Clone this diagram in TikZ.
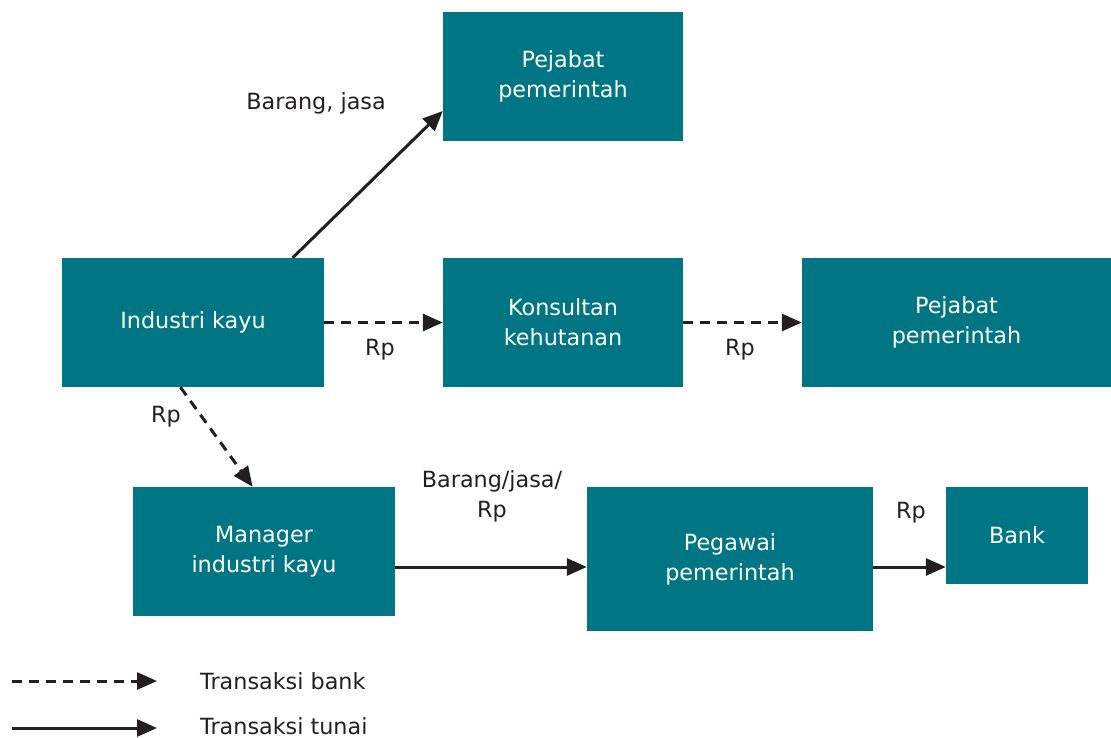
\documentclass[tikz,border=0pt]{standalone}
\usepackage{fontspec}
\setmainfont{DejaVu Sans}
\usetikzlibrary{arrows.meta}
\definecolor{petrol}{RGB}{0,118,132}
\definecolor{ink}{RGB}{35,31,32}

\begin{document}
\begin{tikzpicture}[x=1pt,y=-1pt,
  kotak/.style={rectangle,fill=petrol,text=white,align=center,inner sep=0pt,
    font=\fontsize{22.3}{30}\selectfont},
  ket/.style={text=ink,align=center,inner sep=0pt,font=\fontsize{22.3}{30}\selectfont},
  tunai/.style={draw=ink,line width=3pt,-{Triangle[length=20pt,width=17pt]}},
  transfer/.style={tunai,dash pattern=on 10pt off 7pt}]
  %\draw[help lines,step=50] (0,0) grid (1111,738);
  \useasboundingbox (0,0) rectangle (1111,738);

\node[kotak,minimum width=240,minimum height=129] (pej1) at (563,76.5)
  {Pejabat\\pemerintah};
\node[kotak,minimum width=262,minimum height=129] (ind) at (193,322.5)
  {Industri kayu};
\node[kotak,minimum width=240,minimum height=129] (kons) at (563,322.5)
  {Konsultan\\kehutanan};
\node[kotak,minimum width=309,minimum height=129] (pej2) at (956.5,322.5)
  {Pejabat\\pemerintah};
\node[kotak,minimum width=262,minimum height=129] (mgr) at (264,551.5)
  {Manager\\industri kayu};
\node[kotak,minimum width=286,minimum height=144] (peg) at (730,559)
  {Pegawai\\pemerintah};
\node[kotak,minimum width=142,minimum height=97] (bank) at (1017,535.5)
  {Bank};

\draw[tunai] (ind.33) -- (pej1.196);
\draw[transfer] (ind.east) -- (kons.west);
\draw[transfer] (kons.east) -- (pej2.west);
\draw[transfer] (ind.259) -- (mgr.100);
\draw[tunai] ([yshift=-15.5pt]mgr.east) -- ([yshift=-15.5pt]mgr.east -| peg.west);
\draw[tunai] ([yshift=-8pt]peg.east) -- ([yshift=-8pt]peg.east -| bank.west);

\node[ket] (lbl1) at (316,103) {Barang, jasa};
\node[ket] (lbl2) at (380,350) {Rp};
\node[ket] (lbl3) at (740,350) {Rp};
\node[ket] (lbl4) at (166,417) {Rp};
\node[ket] (lbl5) at (492,496.5) {Barang/jasa/\\Rp};
\node[ket] (lbl6) at (911,513) {Rp};

% keterangan
\coordinate (kb1) at (12,681);
\coordinate (kb2) at (157,681);
\coordinate (kt1) at (12,728);
\coordinate (kt2) at (157,728);
\draw[transfer] (kb1) -- (kb2);
\draw[tunai] (kt1) -- (kt2);
\node[ket,anchor=west] (kbank) at (200,681) {Transaksi bank};
\node[ket,anchor=west] (ktunai) at (200,726) {Transaksi tunai};
\end{tikzpicture}
\end{document}
